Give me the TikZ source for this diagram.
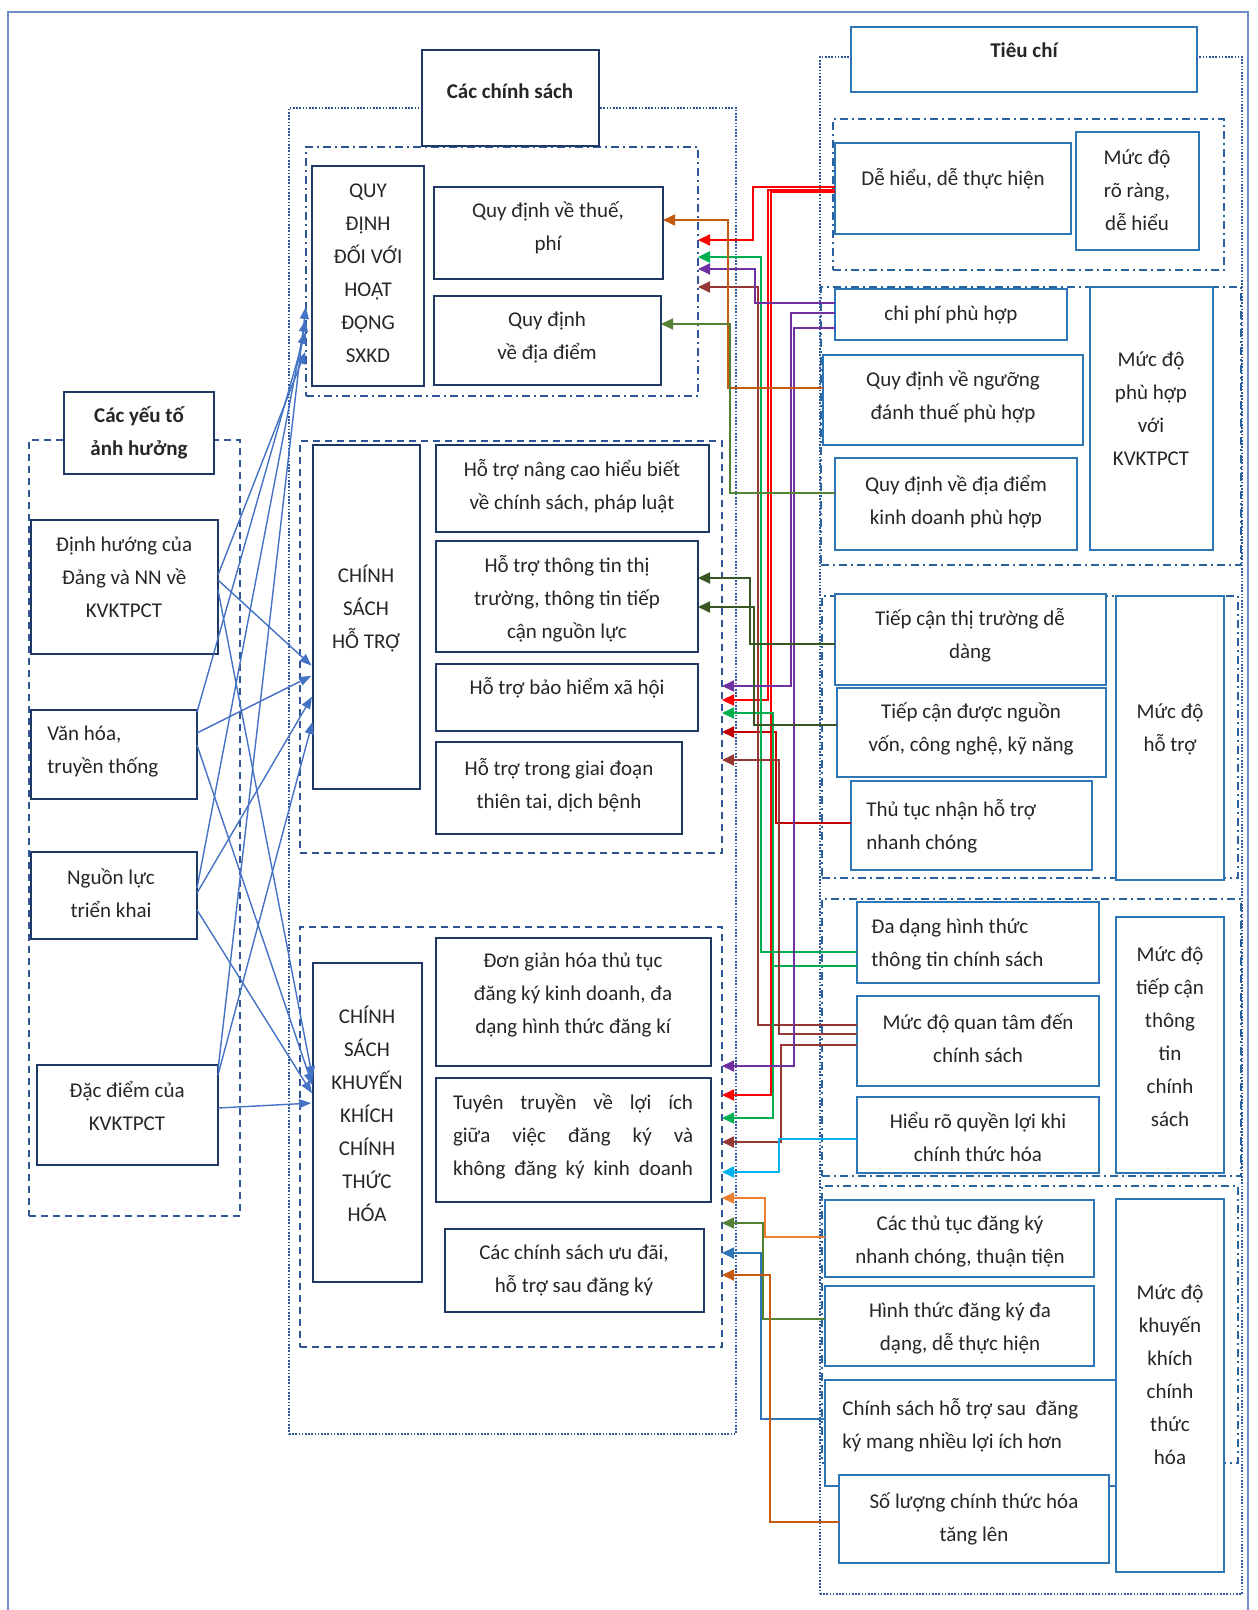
\documentclass[tikz,border=0pt]{standalone}
\usepackage{fontspec}
\setmainfont{Carlito}
\usetikzlibrary{arrows.meta}
\definecolor{navy}{HTML}{203864}
\definecolor{frm}{HTML}{2F5597}
\definecolor{rblue}{HTML}{2E75B6}
\definecolor{outerc}{HTML}{6F8FC8}
\definecolor{lblue}{HTML}{4472C4}
\definecolor{cred}{HTML}{FF0000}
\definecolor{cdred}{HTML}{C00000}
\definecolor{cgreen}{HTML}{00B050}
\definecolor{cmaroon}{HTML}{953735}
\definecolor{cpurple}{HTML}{7030A0}
\definecolor{cbrown}{HTML}{C55A11}
\definecolor{cgreentwo}{HTML}{548235}
\definecolor{cdgreen}{HTML}{375623}
\definecolor{clblue}{HTML}{00B0F0}
\definecolor{corange}{HTML}{ED7D31}
\definecolor{cblue}{HTML}{2E75B6}
\newcommand\mkbox[6]{%
  \pgfmathsetmacro\bxw{((#5)-(#3))*0.5}%
  \pgfmathsetmacro\bxh{((#6)-(#4))*0.5}%
  \pgfmathsetmacro\bxcx{((#3)+(#5))/2}%
  \pgfmathsetmacro\bxcy{((#4)+(#6))/2}%
  \node[#1,minimum width=\bxw pt,minimum height=\bxh pt] (#2) at (\bxcx,\bxcy) {};}
\tikzset{
  lbox/.style={draw=navy, line width=0.8pt, fill=white, inner sep=0pt, outer sep=0pt},
  rbox/.style={draw=rblue, line width=0.8pt, fill=white, inner sep=0pt, outer sep=0pt},
  dashfrm/.style={draw=frm, line width=0.6pt, dash pattern=on 3.5pt off 2.5pt, inner sep=0pt, outer sep=0pt},
  dotfrm/.style={draw=frm, line width=0.7pt, dash pattern=on 0.8pt off 0.8pt, inner sep=0pt, outer sep=0pt},
  ddfrm/.style={draw=frm, line width=0.6pt, dash pattern=on 4pt off 2pt on 1pt off 2pt, inner sep=0pt, outer sep=0pt},
  rddfrm/.style={draw=rblue!70!navy, line width=0.6pt, dash pattern=on 4pt off 2pt on 1pt off 2pt, inner sep=0pt, outer sep=0pt},
  txt/.style={font=\fontsize{10.5}{16.5}\selectfont, text=black!85, align=center, inner sep=0pt},
  btxt/.style={font=\fontsize{10.5}{16.5}\selectfont\bfseries, text=black!85, align=center, inner sep=0pt},
  ltxt/.style={font=\fontsize{10.5}{16.5}\selectfont, text=black!85, align=left, inner sep=0pt, anchor=west},
  cn/.style={line width=0.9pt, -{Triangle[length=6pt,width=5.5pt]}},
  la/.style={draw=lblue, line width=0.7pt, shorten >=1pt, -{Triangle[length=6pt,width=4.5pt,fill=lblue]}},
}
\begin{document}
\begin{tikzpicture}[x=0.5pt,y=-0.5pt]
\useasboundingbox (0,0) rectangle (1257,1610);
% outer frame
\draw[outerc, line width=1pt] (8,1630) -- (8,12) -- (1248,12) -- (1248,1630);
% frames
\mkbox{dashfrm}{L}{29}{440}{240}{1216}
\mkbox{dotfrm}{M}{289}{108}{736}{1434}
\mkbox{ddfrm}{g1}{306}{147}{698}{396}
\mkbox{dashfrm}{g2}{300}{441}{722}{853}
\mkbox{dashfrm}{g3}{300}{927}{722}{1347}
\mkbox{dotfrm}{R}{820}{57}{1242}{1594}
\mkbox{rddfrm}{rg1}{833}{119}{1224}{270}
\mkbox{rddfrm}{rg2}{821}{287}{1241}{565}
\mkbox{rddfrm}{rg3}{822}{596}{1238}{878}
\mkbox{rddfrm}{rg4}{822}{899}{1241}{1176}
\mkbox{rddfrm}{rg5}{822}{1186}{1238}{1463}
% left boxes
\mkbox{lbox}{cyt}{64}{392}{214}{474}
\mkbox{lbox}{dh}{31}{520}{218}{654}
\mkbox{lbox}{vh}{31}{710}{197}{799}
\mkbox{lbox}{nl}{31}{852}{197}{939}
\mkbox{lbox}{dd}{37}{1065}{218}{1165}
% middle boxes
\mkbox{lbox}{ccs}{422}{50}{599}{146}
\mkbox{lbox}{quy}{312}{166}{424}{386}
\mkbox{lbox}{thue}{434}{187}{663}{279}
\mkbox{lbox}{diadiem}{434}{296}{661}{385}
\mkbox{lbox}{ht}{313}{445}{420}{789}
\mkbox{lbox}{htone}{436}{445}{709}{532}
\mkbox{lbox}{httwo}{436}{541}{698}{652}
\mkbox{lbox}{htthree}{436}{664}{698}{731}
\mkbox{lbox}{htfour}{436}{742}{682}{834}
\mkbox{lbox}{kk}{313}{963}{422}{1282}
\mkbox{lbox}{kkone}{436}{938}{711}{1066}
\mkbox{lbox}{kktwo}{436}{1078}{711}{1202}
\mkbox{lbox}{kkthree}{445}{1229}{704}{1312}
% right boxes
\mkbox{rbox}{tc}{851}{27}{1197}{92}
\mkbox{rbox}{de}{835}{143}{1071}{234}
\mkbox{rbox}{rr}{1076}{132}{1199}{250}
\mkbox{rbox}{cp}{835}{289}{1067}{340}
\mkbox{rbox}{ng}{823}{355}{1083}{445}
\mkbox{rbox}{dk}{835}{458}{1077}{550}
\mkbox{rbox}{ph}{1090}{287}{1213}{550}
\mkbox{rbox}{tt}{835}{594}{1106}{685}
\mkbox{rbox}{nv}{837}{688}{1106}{777}
\mkbox{rbox}{th}{851}{781}{1092}{870}
\mkbox{rbox}{hotro}{1116}{596}{1224}{880}
\mkbox{rbox}{dang}{857}{902}{1099}{983}
\mkbox{rbox}{qt}{857}{996}{1099}{1086}
\mkbox{rbox}{hr}{857}{1097}{1099}{1173}
\mkbox{rbox}{tcan}{1116}{917}{1224}{1173}
\mkbox{rbox}{ctt}{825}{1200}{1094}{1277}
\mkbox{rbox}{htfive}{825}{1286}{1094}{1366}
\mkbox{rbox}{cs}{825}{1380}{1117}{1486}
\mkbox{rbox}{sl}{839}{1475}{1109}{1563}
\mkbox{rbox}{kkr}{1116}{1199}{1224}{1572}
% texts left
\node[btxt] (cyt-t) at (139,433) {Các yếu tố\\ảnh hưởng};
\node[txt] (dh-t) at (124,577) {Định hướng của\\Đảng và NN về\\KVKTPCT};
\node[ltxt] (vh-t) at (47,752) {Văn hóa,\\truyền thống};
\node[txt] (nl-t) at (111,893) {Nguồn lực\\triển khai};
\node[txt] (dd-t) at (127,1106) {Đặc điểm của\\KVKTPCT};
% texts middle
\node[btxt] (ccs-t) at (510,91) {Các chính sách};
\node[txt] (quy-t) at (368,273) {QUY\\ĐỊNH\\ĐỐI VỚI\\HOẠT\\ĐỘNG\\SXKD};
\node[txt] (thue-t) at (548,228) {Quy định về thuế,\\phí};
\node[txt] (diadiem-t) at (547,337) {Quy định\\về địa điểm};
\node[txt] (ht-t) at (366,608) {CHÍNH\\SÁCH\\HỖ TRỢ};
\node[txt] (htone-t) at (572,486) {Hỗ trợ nâng cao hiểu biết\\về chính sách, pháp luật};
\node[txt] (httwo-t) at (567,599) {Hỗ trợ thông tin thị\\trường, thông tin tiếp\\cận nguồn lực};
\node[txt] (htthree-t) at (567,688) {Hỗ trợ bảo hiểm xã hội};
\node[txt] (htfour-t) at (559,785) {Hỗ trợ trong giai đoạn\\thiên tai, dịch bệnh};
\node[txt] (kk-t) at (367,1114) {CHÍNH\\SÁCH\\KHUYẾN\\KHÍCH\\CHÍNH\\THỨC\\HÓA};
\node[txt] (kkone-t) at (573,995) {Đơn giản hóa thủ tục\\đăng ký kinh doanh, đa\\dạng hình thức đăng kí};
\node[txt] (kktwo-t) at (573,1136) {\makebox[120pt][s]{Tuyên truyền về lợi ích}\\\makebox[120pt][s]{giữa việc đăng ký và}\\\makebox[120pt][s]{không đăng ký kinh doanh}};
\node[txt] (kkthree-t) at (574,1270) {Các chính sách ưu đãi,\\hỗ trợ sau đăng ký};
% texts right
\node[btxt] (tc-t) at (1024,50) {Tiêu chí};
\node[txt] (de-t) at (953,179) {Dễ hiểu, dễ thực hiện};
\node[txt] (rr-t) at (1137,190) {Mức độ\\rõ ràng,\\dễ hiểu};
\node[txt] (cp-t) at (951,315) {chi phí phù hợp};
\node[txt] (ng-t) at (953,397) {Quy định về ngưỡng\\đánh thuế phù hợp};
\node[txt] (dk-t) at (956,502) {Quy định về địa điểm\\kinh doanh phù hợp};
\node[txt] (ph-t) at (1151,409) {Mức độ\\phù hợp\\với\\KVKTPCT};
\node[txt] (tt-t) at (970,635) {Tiếp cận thị trường dễ\\dàng};
\node[txt] (nv-t) at (971,729) {Tiếp cận được nguồn\\vốn, công nghệ, kỹ năng};
\node[ltxt] (th-t) at (866,826) {Thủ tục nhận hỗ trợ\\nhanh chóng};
\node[txt] (hotro-t) at (1170,729) {Mức độ\\hỗ trợ};
\node[ltxt] (dang-t) at (871,944) {Đa dạng hình thức\\thông tin chính sách};
\node[txt] (qt-t) at (978,1038) {Mức độ quan tâm đến\\chính sách};
\node[txt] (hr-t) at (978,1137) {Hiểu rõ quyền lợi khi\\chính thức hóa};
\node[txt] (tcan-t) at (1170,1037) {Mức độ\\tiếp cận\\thông\\tin\\chính\\sách};
\node[txt] (ctt-t) at (960,1241) {Các thủ tục đăng ký\\nhanh chóng, thuận tiện};
\node[txt] (htfive-t) at (960,1328) {Hình thức đăng ký đa\\dạng, dễ thực hiện};
\node[ltxt] (cs-t) at (842,1425) {Chính sách hỗ trợ sau\ \ đăng\\ký mang nhiều lợi ích hơn};
\node[txt] (sl-t) at (974,1519) {Số lượng chính thức hóa\\tăng lên};
\node[txt] (kkr-t) at (1170,1375) {Mức độ\\khuyến\\khích\\chính\\thức\\hóa};
% left arrows
\draw[la] (dh.east|-0,575) -- (g1.west|-0,350);
\draw[la] (dh.east|-0,580) -- (ht.west|-0,667);
\draw[la] (dh.east|-0,590) -- (kk.west|-0,1080);
\draw[la] (vh.east|-0,712) -- (g1.west|-0,330);
\draw[la] (vh.east|-0,733) -- (ht.west|-0,675);
\draw[la] (vh.east|-0,745) -- (kk.west|-0,1087);
\draw[la] (nl.east|-0,888) -- (g1.west|-0,318);
\draw[la] (nl.east|-0,893) -- (ht.west|-0,695);
\draw[la] (nl.east|-0,910) -- (kk.west|-0,1095);
\draw[la] (dd.east|-0,1070) -- (g1.west|-0,305);
\draw[la] (dd.east|-0,1075) -- (ht.west|-0,720);
\draw[la] (dd.east|-0,1108) -- (kk.west|-0,1103);
% right connectors
\draw[cn,cred] (de.west|-0,187) -| (753,240) -- (g1.east|-0,240);
\draw[cn,cred,line width=1.2pt] (de.west|-0,190) -| (768,700) -- (g2.east|-0,700);
\draw[cn,cred] (de.west|-0,192) -| (771,1095) -- (g3.east|-0,1095);
\draw[cn,cdred] (th.west|-0,823) -| (776,732) -- (g2.east|-0,732);
\draw[cn,cmaroon] (qt.west|-0,1025) -| (758,287) -- (g1.east|-0,287);
\draw[cn,cgreen,line width=1.3pt] (dang.west|-0,952) -| (761,257) -- (g1.east|-0,257);
\draw[cn,cgreen] (dang.west|-0,966) -| (773,713) -- (g2.east|-0,713);
\draw[cn,cgreen] (dang.west|-0,966) -| (773,1118) -- (g3.east|-0,1118);
\draw[cn,cmaroon] (qt.west|-0,1034) -| (779,760) -- (g2.east|-0,760);
\draw[cn,cmaroon] (qt.west|-0,1045) -| (781,1142) -- (g3.east|-0,1142);
\draw[cn,cpurple] (cp.west|-0,303) -| (755,269) -- (g1.east|-0,269);
\draw[cn,cpurple] (cp.west|-0,313) -| (791,686) -- (g2.east|-0,686);
\draw[cn,cpurple] (cp.west|-0,328) -| (794,1066) -- (g3.east|-0,1066);
\draw[cn,cbrown] (ng.west|-0,388) -| (728,220) -- (thue.east|-0,220);
\draw[cn,cgreentwo] (dk.west|-0,493) -| (730,324) -- (diadiem.east|-0,324);
\draw[cn,cdgreen] (tt.west|-0,644) -| (750,578) -- (httwo.east|-0,578);
\draw[cn,cdgreen] (nv.west|-0,725) -| (754,607) -- (httwo.east|-0,607);
\draw[cn,clblue] (hr.west|-0,1139) -| (779,1172) -- (g3.east|-0,1172);
\draw[cn,corange] (ctt.west|-0,1237) -| (765,1198) -- (g3.east|-0,1198);
\draw[cn,cgreentwo] (htfive.west|-0,1319) -| (763,1223) -- (g3.east|-0,1223);
\draw[cn,cblue] (cs.west|-0,1419) -| (761,1253) -- (g3.east|-0,1253);
\draw[cn,cbrown] (sl.west|-0,1522) -| (770,1275) -- (g3.east|-0,1275);
\end{tikzpicture}
\end{document}
